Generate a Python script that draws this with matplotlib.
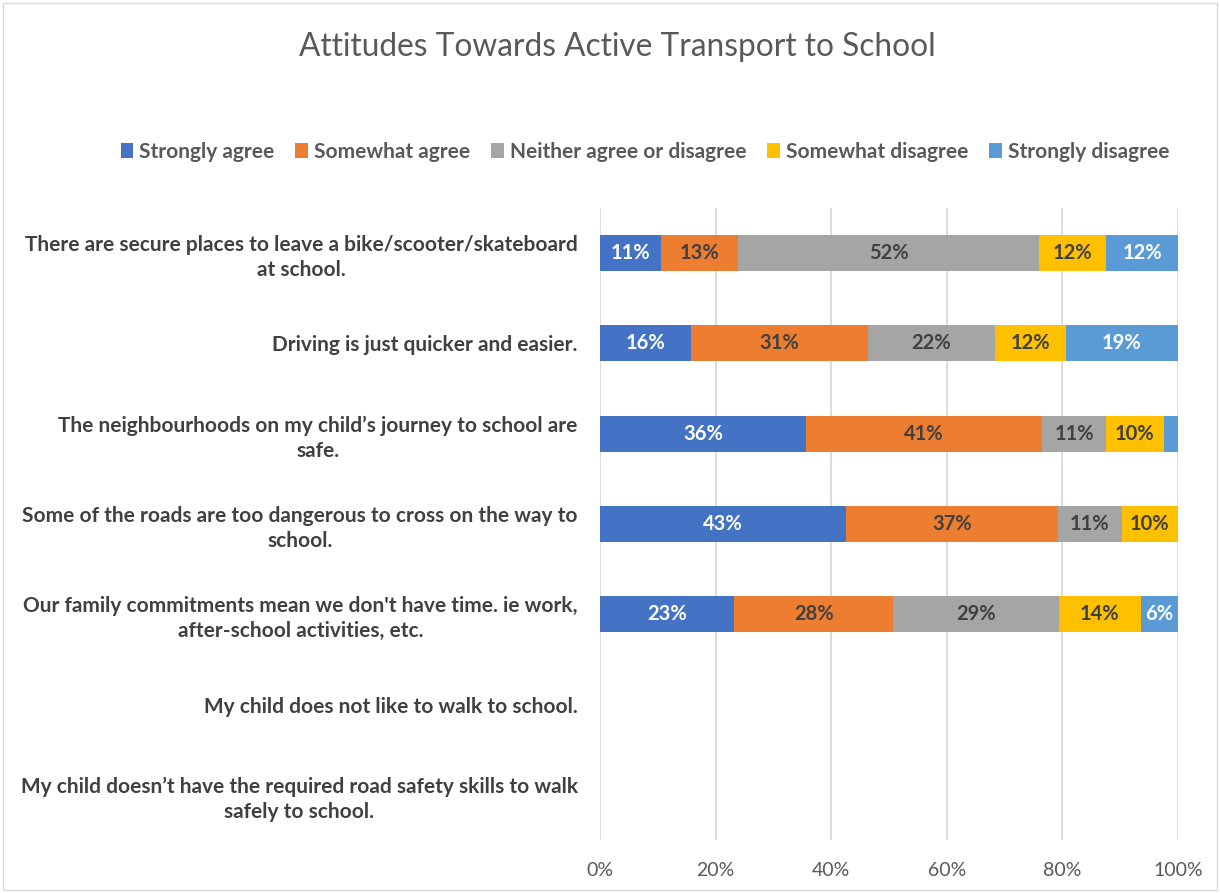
import matplotlib
matplotlib.use("Agg")
import matplotlib.pyplot as plt
import numpy as np
from matplotlib.patches import Rectangle

categories = [
    "There are secure places to leave a bike/scooter/skateboard\nat school.",
    "Driving is just quicker and easier.",
    "The neighbourhoods on my child\u2019s journey to school are\nsafe.",
    "Some of the roads are too dangerous to cross on the way to\nschool.",
    "Our family commitments mean we don't have time. ie work,\nafter-school activities, etc.",
    "My child does not like to walk to school.",
    "My child doesn\u2019t have the required road safety skills to walk\nsafely to school.",
]
series_names = ["Strongly agree", "Somewhat agree", "Neither agree or disagree",
                "Somewhat disagree", "Strongly disagree"]
strongly_agree = [10.6, 15.7, 35.6, 42.6, 23.2, 0, 0]
somewhat_agree = [13.3, 30.7, 40.9, 36.6, 27.5, 0, 0]
neither = [52.1, 21.9, 11.1, 11.1, 28.7, 0, 0]
somewhat_disagree = [11.6, 12.3, 9.9, 9.7, 14.2, 0, 0]
strongly_disagree = [12.4, 19.4, 2.5, 0, 6.4, 0, 0]
xticks = [0, 20, 40, 60, 80, 100]
xtick_labels = ["0%", "20%", "40%", "60%", "80%", "100%"]

colors = ["#4472C4", "#ED7D31", "#A5A5A5", "#FFC000", "#5B9BD5"]
label_colors = ["white", "#404040", "#404040", "#404040", "white"]

plt.rcParams['font.family'] = ['Lato', 'DejaVu Sans']

fig = plt.figure(figsize=(12.2, 8.93), dpi=100)
ax = fig.add_axes([600/1220, 1-840/893, 578/1220, 632/893])

series = [strongly_agree, somewhat_agree, neither, somewhat_disagree, strongly_disagree]
y = np.arange(len(categories))
left = np.zeros(len(categories))
for name, vals, c, lc in zip(series_names, series, colors, label_colors):
    vals = np.array(vals, dtype=float)
    ax.barh(y, vals, left=left, height=0.4, color=c, label=name, zorder=3)
    for yi, (l, v) in enumerate(zip(left, vals)):
        if v >= 3:
            ax.text(l + v/2, yi, f"{int(v + 0.5):d}%", ha='center', va='center',
                    color=lc, fontsize=14.5, fontweight='bold', zorder=4)
    left += vals

ax.set_xlim(0, 100)
ax.set_ylim(len(categories)-0.5, -0.5)
ax.set_xticks(xticks)
ax.set_xticklabels(xtick_labels, color="#595959", fontsize=14)
ax.set_yticks(y)
ax.set_yticklabels(categories, fontsize=15, fontweight='bold', color="#404040",
                   multialignment='center', linespacing=1.3)
ax.tick_params(axis='both', length=0)
ax.tick_params(axis='x', pad=16)
ax.tick_params(axis='y', pad=16)
ax.grid(axis='x', color="#D9D9D9", linewidth=1.3, zorder=0)
for s in ax.spines.values():
    s.set_visible(False)

fig.text(617/1220, 1-47/893, "Attitudes Towards Active Transport to School",
         ha='center', va='center', fontsize=22.8, color="#595959")

handles, labels = ax.get_legend_handles_labels()
fig.legend(handles, labels, loc='center', bbox_to_anchor=(645/1220, 1-152/893),
           ncol=5, frameon=False, handlelength=0.6, handleheight=0.7,
           columnspacing=1.0, handletextpad=0.3,
           prop={'weight': 'bold', 'size': 15})
for t in fig.legends[0].get_texts():
    t.set_color("#595959")

fig.patches.append(Rectangle((3/1220, 3/893), 1-6/1220, 1-6/893, transform=fig.transFigure,
                             fill=False, edgecolor="#D9D9D9", linewidth=1))

fig.savefig("out.png", dpi=100, facecolor='white')
